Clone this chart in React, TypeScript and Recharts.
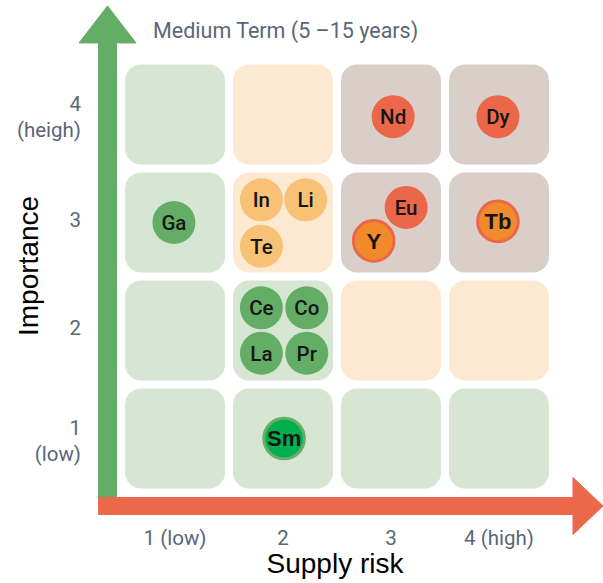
import React from "react";
import {
  ScatterChart,
  Scatter,
  XAxis,
  YAxis,
  ReferenceArea,
  ReferenceLine,
} from "recharts";

// axes
const supplyRiskTicks = [1, 2, 3, 4];
const supplyRiskLabels = ["1 (low)", "2", "3", "4 (high)"];
const importanceTicks = [1, 2, 3, 4];
const importanceLabels = [["1", "(low)"], ["2"], ["3"], ["4", "(heigh)"]];

// zone of each cell, rows = importance 1..4, columns = supply risk 1..4
const zoneRows = [
  ["low", "low", "low", "low"],
  ["low", "low", "medium", "medium"],
  ["low", "medium", "high", "high"],
  ["low", "medium", "high", "high"],
];

// elements placed in the matrix
const elementNames = ["Nd", "Dy", "Ga", "In", "Li", "Te", "Eu", "Y", "Tb", "Ce", "Co", "La", "Pr", "Sm"];
const elementRisk = [3.02, 3.99, 0.99, 1.8, 2.21, 1.8, 3.14, 2.84, 3.99, 1.8, 2.22, 1.8, 2.22, 2.01];
const elementImportance = [3.98, 3.98, 3.0, 3.21, 3.21, 2.78, 3.14, 2.83, 3.01, 2.21, 2.21, 1.79, 1.79, 1.0];
const elementStatus = [
  "critical", "critical", "ok", "near", "near", "near", "critical",
  "criticalKey", "criticalKey", "ok", "ok", "ok", "ok", "okKey",
];

const elementData = elementNames.map((name, i) => ({
  name,
  risk: elementRisk[i],
  importance: elementImportance[i],
  status: elementStatus[i],
}));

const cells = zoneRows.flatMap((row, r) =>
  row.map((zone, c) => ({ risk: supplyRiskTicks[c], importance: importanceTicks[r], zone }))
);

const zoneFill: Record<string, string> = {
  low: "#d7e6d3",
  medium: "#fde8d1",
  high: "#d9cec8",
};

const bubbleStyle: Record<string, { fill: string; stroke?: string; bold?: boolean }> = {
  critical: { fill: "#ec664a" },
  near: { fill: "#f7c176" },
  ok: { fill: "#64ad66" },
  criticalKey: { fill: "#f08a2b", stroke: "#ec664a", bold: true },
  okKey: { fill: "#00b050", stroke: "#68ae67", bold: true },
};

const dinFont = "Roboto, 'DejaVu Sans', sans-serif";
const arialFont = "'Liberation Sans', Arial, sans-serif";
const tickColor = "#5a6678";
const HALF = 0.463;

function SupplyTick({ x, y, payload }: any) {
  const label = supplyRiskLabels[supplyRiskTicks.indexOf(payload.value)];
  return (
    <text x={x} y={y + 44} textAnchor="middle" fill={tickColor} fontSize={20.5} fontFamily={dinFont}>
      {label}
    </text>
  );
}

function ImportanceTick({ x, y, payload }: any) {
  const lines = importanceLabels[importanceTicks.indexOf(payload.value)];
  const right = x - 32;
  if (lines.length === 1) {
    return (
      <text x={right} y={y + 4} textAnchor="end" fill={tickColor} fontSize={20.5} fontFamily={dinFont}>
        {lines[0]}
      </text>
    );
  }
  return (
    <text x={right} y={y - 4} textAnchor="end" fill={tickColor} fontSize={20.5} fontFamily={dinFont}>
      <tspan x={right}>{lines[0]}</tspan>
      <tspan x={right} dy={26}>{lines[1]}</tspan>
    </text>
  );
}

function Arrow(color: string, shaft: number, headLen: number, headHalf: number) {
  return (props: any) => {
    const { x1, y1, x2, y2 } = props;
    const len = Math.hypot(x2 - x1, y2 - y1);
    const ux = (x2 - x1) / len;
    const uy = (y2 - y1) / len;
    const px = -uy;
    const py = ux;
    const bx = x2 - ux * headLen;
    const by = y2 - uy * headLen;
    const pts = [
      [x1 + px * shaft, y1 + py * shaft],
      [bx + px * shaft, by + py * shaft],
      [bx + px * headHalf, by + py * headHalf],
      [x2, y2],
      [bx - px * headHalf, by - py * headHalf],
      [bx - px * shaft, by - py * shaft],
      [x1 - px * shaft, y1 - py * shaft],
    ];
    return (
      <polygon
        points={pts.map((p) => p.join(",")).join(" ")}
        fill={color}
        stroke={color}
        strokeWidth={1}
        strokeLinejoin="round"
      />
    );
  };
}

const greenArrow = Arrow("#64ad66", 9, 37, 28.5);
const redArrow = Arrow("#ec684a", 8.5, 30, 28.5);

function CellShape(fill: string) {
  return (props: any) => (
    <rect x={props.x} y={props.y} width={props.width} height={props.height} rx={16} ry={16} fill={fill} />
  );
}

function Bubble(props: any) {
  const { cx, cy, payload } = props;
  const s = bubbleStyle[payload.status];
  return (
    <g>
      {s.stroke ? (
        <circle cx={cx} cy={cy} r={20.3} fill={s.fill} stroke={s.stroke} strokeWidth={3} />
      ) : (
        <circle cx={cx} cy={cy} r={21.5} fill={s.fill} />
      )}
      <text
        x={cx}
        y={cy}
        dy="0.36em"
        textAnchor="middle"
        fill="#151515"
        fontSize={s.bold ? 22 : 20.5}
        fontWeight={s.bold ? 700 : 500}
        fontFamily={s.bold ? arialFont : dinFont}
      >
        {payload.name}
      </text>
    </g>
  );
}

export default function App() {
  return (
    <div style={{ position: "absolute", left: 0, top: 0, background: "#fff" }}>
      <ScatterChart width={603} height={583} margin={{ top: 60.5, right: 50, bottom: 30.5, left: 21 }}>
        <XAxis
          type="number"
          dataKey="risk"
          domain={[0.5, 4.5]}
          ticks={supplyRiskTicks}
          axisLine={false}
          tickLine={false}
          tick={<SupplyTick />}
          height={60}
          allowDataOverflow
        />
        <YAxis
          type="number"
          dataKey="importance"
          domain={[0.5, 4.5]}
          ticks={importanceTicks}
          axisLine={false}
          tickLine={false}
          tick={<ImportanceTick />}
          width={100}
          allowDataOverflow
        />
        {cells.map((c) => (
          <ReferenceArea
            key={`${c.risk}-${c.importance}`}
            x1={c.risk - HALF}
            x2={c.risk + HALF}
            y1={c.importance - HALF}
            y2={c.importance + HALF}
            ifOverflow="visible"
            shape={CellShape(zoneFill[c.zone])}
          />
        ))}
        <ReferenceLine
          segment={[
            { x: 0.375, y: 0.375 },
            { x: 0.375, y: 5.005 },
          ]}
          ifOverflow="visible"
          shape={greenArrow}
        />
        <ReferenceLine
          segment={[
            { x: 0.293, y: 0.375 },
            { x: 4.963, y: 0.375 },
          ]}
          ifOverflow="visible"
          shape={redArrow}
        />
        <Scatter data={elementData} shape={Bubble} isAnimationActive={false} />
        <text x={153} y={38} fill={tickColor} fontSize={21.5} fontFamily={dinFont}>
          Medium Term (5 –15 years)
        </text>
        <text x={335} y={573} textAnchor="middle" fill="#000" fontSize={28} fontFamily={arialFont}>
          Supply risk
        </text>
        <text
          x={38}
          y={266}
          transform="rotate(-90 38 266)"
          textAnchor="middle"
          fill="#000"
          fontSize={28}
          fontFamily={arialFont}
        >
          Importance
        </text>
      </ScatterChart>
    </div>
  );
}
